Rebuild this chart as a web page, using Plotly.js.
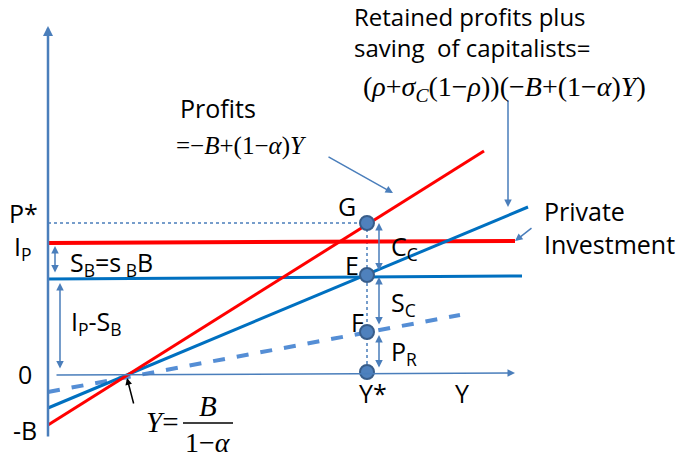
<!DOCTYPE html>
<html>
<head>
<meta charset="utf-8">
<script src="https://cdn.plot.ly/plotly-3.0.1.min.js"></script>
<style>body{margin:0;background:#fff}#chart{width:683px;height:459px}</style>
</head>
<body>
<div id="chart"></div>
<script>
// diagram units: Y along the bottom, income/profit flows up
var profitsX = [0, 436];      // profits = -B + (1-a)Y
var profitsY = [-50, 224];
var retainedX = [0, 480];     // retained profits + capitalists' saving
var retainedY = [-33, 168];
var retProfX = [0, 412];      // retained profits only (dashed)
var retProfY = [-17, 60];
var investX = [0, 467];       // private investment I_P
var investY = [132, 134];
var ipsbX = [0, 474];         // I_P - S_B
var ipsbY = [96, 99];

var yStar = 319;
var pStar = 152;
var pointNames = ['G', 'E', 'F', 'Y*'];
var pointY = [152, 100, 43, 3];

var SANS = 'Open Sans, Calibri, sans-serif';
var SERIF = 'Liberation Serif, Times New Roman, serif';
var AXIS = '#4A7EBB';

var data = [
    {x: [0, yStar], y: [pStar, pStar], mode: 'lines', line: {color: AXIS, width: 1.5, dash: 'dot'}},
    {x: [yStar, yStar], y: [pStar, pointY[3]], mode: 'lines', line: {color: AXIS, width: 1.5, dash: 'dot'}},
    {x: retProfX, y: retProfY, mode: 'lines', line: {color: '#558ED5', width: 4, dash: 'dash'}},
    {x: ipsbX, y: ipsbY, mode: 'lines', line: {color: '#0070C0', width: 3}},
    {x: investX, y: investY, mode: 'lines', line: {color: '#FF0000', width: 4}},
    {x: retainedX, y: retainedY, mode: 'lines', line: {color: '#0070C0', width: 3}},
    {x: profitsX, y: profitsY, mode: 'lines', line: {color: '#FF0000', width: 3}},
    {x: pointY.map(function(){ return yStar; }), y: pointY, mode: 'markers', text: pointNames,
     marker: {size: 14, color: '#4F81BD', line: {color: '#385D8A', width: 2}}}
];

function label(x, y, text, opts) {
    opts = opts || {};
    return {x: x, y: y, xref: 'x', yref: 'y', text: text, showarrow: false,
            xanchor: opts.anchor || 'center', yanchor: 'middle', align: opts.anchor || 'center',
            font: {family: opts.family || SANS, size: opts.size || 25, color: '#000'}};
}

function arrow(x0, y0, x1, y1, opts) {
    opts = opts || {};
    var a = {x: x1, y: y1, ax: x0, ay: y0, xref: 'x', yref: 'y', axref: 'x', ayref: 'y',
             text: '', showarrow: true, arrowhead: 2, arrowsize: opts.size || 1,
             arrowwidth: opts.width || 1.5, arrowcolor: opts.color || AXIS,
             standoff: 0, startstandoff: 0};
    if (opts.both) { a.arrowside = 'end+start'; a.startarrowhead = 2; a.startarrowsize = 1; }
    return a;
}

var annotations = [
    // axes
    arrow(0, -63, 0, 349, {width: 2.5, size: 0.8}),
    arrow(7, 0, 467, 2, {width: 1.5}),
    // brackets
    arrow(7, 101, 7, 129, {both: true}),
    arrow(12, 5, 12, 92, {both: true}),
    arrow(331, 103, 331, 152, {both: true}),
    arrow(331, 49, 331, 98, {both: true}),
    arrow(331, 6, 331, 40, {both: true}),
    // pointers
    arrow(279, 219, 345, 182),
    arrow(460, 276, 460, 168),
    arrow(485, 148, 467, 134),
    arrow(86, -30, 79, -3, {color: '#000', width: 1.5, size: 0.9}),
    // left labels
    label(-25, 162, 'P*'),
    label(-25, 128, 'I<sub>P</sub>'),
    label(-23, 1, '0'),
    label(-23, -55, '-B'),
    label(20, 112, 'S<sub>B</sub>=s<sub> B</sub>B', {anchor: 'left'}),
    label(21, 53, 'I<sub>P</sub>-S<sub>B</sub>', {anchor: 'left'}),
    // points
    label(299, 169, 'G'),
    label(304, 110, 'E'),
    label(309, 53, 'F'),
    label(325, -18, 'Y*'),
    label(414, -18, 'Y'),
    label(341, 128, 'C<sub>C</sub>', {anchor: 'left'}),
    label(341, 72, 'S<sub>C</sub>', {anchor: 'left'}),
    label(341, 23, 'P<sub>R</sub>', {anchor: 'left'}),
    // right
    label(494, 148, 'Private<br>Investment', {anchor: 'left', size: 25}),
    // top
    label(304, 343, 'Retained profits plus<br>saving  of capitalists=', {anchor: 'left', size: 24}),
    label(313, 287, '(<i>ρ</i>+<i>σ</i><sub><i>C</i></sub>(1−<i>ρ</i>))(−<i>B</i>+(1−<i>α</i>)<i>Y</i>)',
          {anchor: 'left', family: SERIF, size: 28}),
    label(130, 267, 'Profits', {anchor: 'left', size: 25}),
    label(126, 229, '=−<i>B</i>+(1−<i>α</i>)<i>Y</i>', {anchor: 'left', family: SERIF, size: 25}),
    // break-even income
    label(96, -47, '<i>Y</i>=', {anchor: 'left', family: SERIF, size: 29}),
    label(160, -31, '<i>B</i>', {family: SERIF, size: 29}),
    label(160, -67, '1−<i>α</i>', {family: SERIF, size: 28})
];

var layout = {
    width: 683,
    height: 459,
    margin: {l: 0, r: 0, t: 0, b: 0},
    paper_bgcolor: '#fff',
    plot_bgcolor: '#fff',
    showlegend: false,
    xaxis: {range: [-48, 635], visible: false, fixedrange: true},
    yaxis: {range: [-84, 375], visible: false, fixedrange: true},
    shapes: [
        {type: 'line', xref: 'x', yref: 'y', x0: 135, x1: 185, y0: -48, y1: -48, line: {color: '#000', width: 1.5}}
    ],
    annotations: annotations
};

Plotly.newPlot('chart', data, layout, {displayModeBar: false, staticPlot: true});
</script>
</body>
</html>
